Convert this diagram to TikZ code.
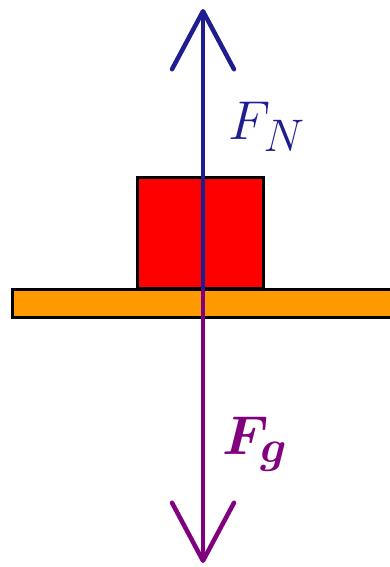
\documentclass[tikz,border=0pt]{standalone}
\usepackage{bm}
\usepackage{graphicx}
\usetikzlibrary{arrows.meta}
\definecolor{navy}{RGB}{30,30,145}
\definecolor{violet2}{RGB}{128,0,128}
\definecolor{orng}{RGB}{255,153,0}
\tikzset{
  body/.style={draw=black, line width=3pt, inner sep=0pt, outer sep=0pt},
  force/.style={line width=4.5pt, -{Straight Barb[length=58pt,width=62pt,line width=4.5pt,round]}},
  lbl/.style={font=\Huge, inner sep=0pt}
}
\begin{document}
\begin{tikzpicture}[x=1pt,y=-1pt]
\useasboundingbox (0,0) rectangle (390,567);
\clip (0,0) rectangle (390,567);
\node[body, fill=red, minimum width=126pt, minimum height=111pt, anchor=north west] (block) at (137,177) {};
\node[body, fill=orng, minimum width=384pt, minimum height=28pt, anchor=north west] (plank) at (12,289) {};
\coordinate (c) at (203,289);
\coordinate (top) at (203,9);
\coordinate (bot) at (203,563);
\draw[force, navy] (c) -- (top);
\draw[force, violet2] (c) -- (bot);
\node[lbl, text=navy] (fn) at (267,127) {\scalebox{2.2}{$F_N$}};
\node[lbl, text=violet2] (fg) at (255,444) {\scalebox{2.2}{$\bm{F_g}$}};
\end{tikzpicture}
\end{document}
